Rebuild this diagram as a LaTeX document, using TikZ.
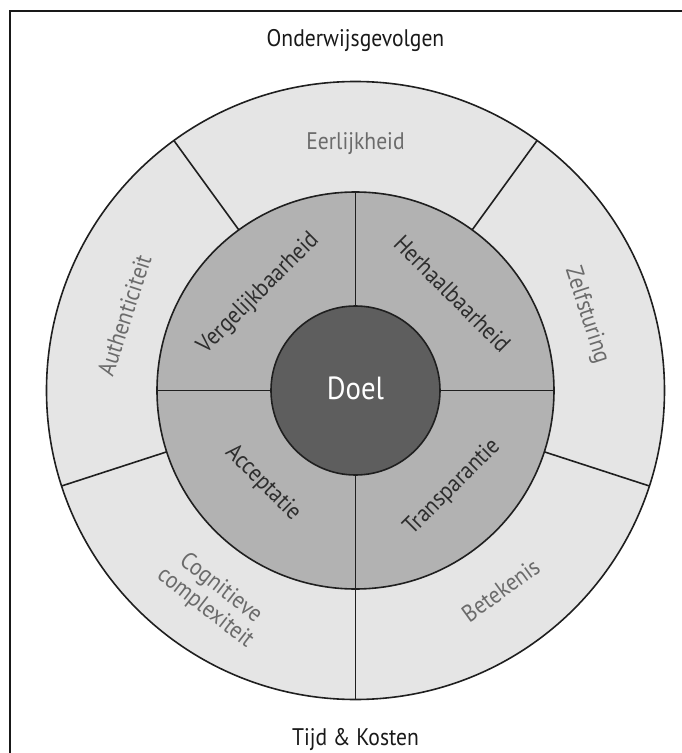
\documentclass[tikz,border=0pt]{standalone}
\usepackage{fontspec}
\setmainfont{PT Sans}[FakeStretch=0.9]
\begin{document}
\begin{tikzpicture}[x=1pt,y=1pt,
  frameline/.style={draw=black!90, line width=1.8pt},
  ringline/.style={draw=black!88, line width=1.6pt},
  outerfill/.style={fill=black!10},
  midfill/.style={fill=black!30},
  corefill/.style={fill=black!63},
  outerlbl/.style={text=black!58, font=\fontsize{24}{24}\selectfont, align=center, inner sep=0pt},
  midlbl/.style={text=black!82, font=\fontsize{24}{24}\selectfont, inner sep=0pt},
  sidelbl/.style={text=black!90, font=\fontsize{24}{24}\selectfont, inner sep=0pt},
  corelbl/.style={text=white, font=\fontsize{32}{32}\selectfont, inner sep=0pt}]
\useasboundingbox (-355.5,-362.5) rectangle (325.5,390.5);

% open frame (right and bottom sides lie outside the page)
\draw[frameline] (340,379.5) -- (-345.5,379.5) -- (-345.5,-380);

% ring fills
\fill[outerfill] (0,0) circle (309);
\fill[midfill] (0,0) circle (198.5);

% five sectors of the outer ring
\foreach \a in {54,126,198,270,342}
  \draw[ringline] (\a:198.5) -- (\a:309);

% four quadrants of the middle ring
\draw[ringline] (-198.5,0) -- (-84.5,0);
\draw[ringline] (84.5,0) -- (198.5,0);
\draw[ringline] (0,84.5) -- (0,198.5);
\draw[ringline] (0,-84.5) -- (0,-198.5);

\draw[ringline] (0,0) circle (309);
\draw[ringline] (0,0) circle (198.5);
\filldraw[ringline, corefill] (0,0) circle (84.5);

% centre
\node[corelbl] (doel) at (0,2) {Doel};

% middle ring
\node[midlbl, rotate=45]  (verg) at (135:137) {Vergelijkbaarheid};
\node[midlbl, rotate=-45] (herh) at (45:137)  {Herhaalbaarheid};
\node[midlbl, rotate=-45] (acc)  at (225:131) {Acceptatie};
\node[midlbl, rotate=45]  (tra)  at (315:137) {Transparantie};

% outer ring
\node[outerlbl]             (eer)  at (90:247)  {Eerlijkheid};
\node[outerlbl, rotate=-72] (zelf) at (18:243)  {Zelfsturing};
\node[outerlbl, rotate=72]  (auth) at (162:243) {Authenticiteit};
\node[outerlbl, rotate=36]  (bet)  at (306:247) {Betekenis};
\node[outerlbl, rotate=-38] (cog)  at (235.5:252) {Cognitieve\\[1pt]complexiteit};

% side labels
\node[sidelbl, anchor=base] (top) at (0,343.5)  {Onderwijsgevolgen};
\node[sidelbl, anchor=base] (bot) at (0,-355)   {Tijd \& Kosten};
\end{tikzpicture}
\end{document}
